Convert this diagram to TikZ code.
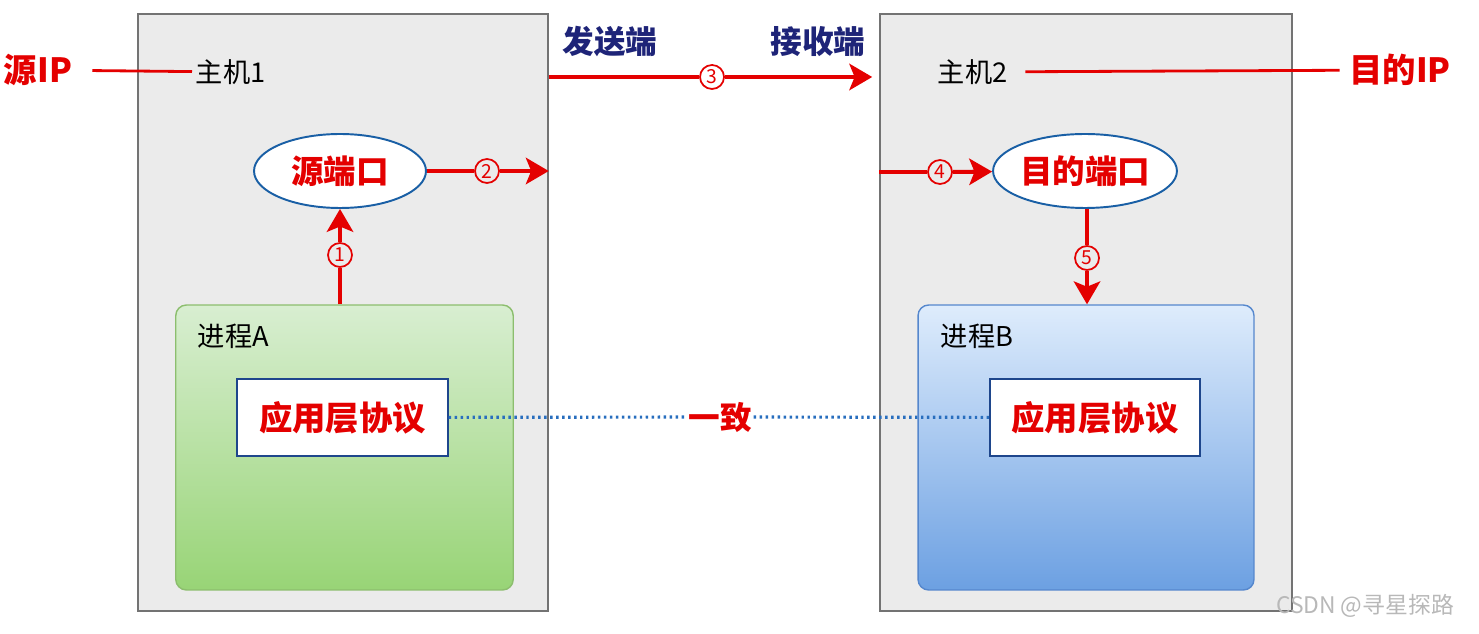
\documentclass[tikz,border=0pt]{standalone}
\usepackage{fontspec}
\setmainfont{Noto Sans CJK SC}
\usetikzlibrary{arrows.meta,shapes.geometric}
\definecolor{hostfill}{RGB}{235,235,235}
\definecolor{hostdraw}{RGB}{115,115,115}
\definecolor{flowred}{RGB}{228,0,0}
\definecolor{sidenavy}{RGB}{30,36,120}
\definecolor{portblue}{RGB}{25,95,165}
\definecolor{protoblue}{RGB}{30,70,140}
\definecolor{greentop}{RGB}{216,238,209}
\definecolor{greenbot}{RGB}{152,212,118}
\definecolor{greendraw}{RGB}{140,190,110}
\definecolor{bluetop}{RGB}{222,236,252}
\definecolor{bluebot}{RGB}{108,160,226}
\definecolor{bluedraw}{RGB}{85,135,205}
\definecolor{dotblue}{RGB}{40,110,190}
\begin{document}
\begin{tikzpicture}[x=0.02cm,y=-0.02cm,
  hostbox/.style={draw=hostdraw,fill=hostfill,line width=0.9pt,minimum width=8.2cm,minimum height=11.94cm,inner sep=0},
  procbox/.style={rounded corners=6pt,line width=0.8pt,minimum width=6.75cm,minimum height=5.7cm,inner sep=0},
  protobox/.style={draw=protoblue,fill=white,line width=1pt,minimum width=4.21cm,minimum height=1.54cm,inner sep=0,
    text=flowred,font=\fontsize{19}{19}\selectfont\bfseries},
  portnode/.style={ellipse,draw=portblue,fill=white,line width=1.1pt,minimum height=1.48cm,inner sep=0,
    text=flowred,font=\fontsize{18.5}{18.5}\selectfont\bfseries},
  stepnum/.style={circle,draw=flowred,line width=1pt,minimum size=0.48cm,inner sep=0,text=flowred,
    font=\fontsize{11}{11}\selectfont},
  flow/.style={flowred,line width=2.3pt},
  flowarrow/.style={flow,-{Stealth[length=13pt,width=15pt,inset=3pt]}},
  iplabel/.style={text=flowred,font=\fontsize{19}{19}\selectfont\bfseries},
  sidelabel/.style={text=sidenavy,font=\fontsize{18}{18}\selectfont\bfseries},
  plainlabel/.style={anchor=west,inner sep=2pt,font=\fontsize{15.5}{15.5}\selectfont}]
  \useasboundingbox (0,0) rectangle (1479,634);
  % hosts
  \node[hostbox] (host1) at (343,312.5) {};
  \node[hostbox,minimum width=8.24cm] (host2) at (1086,312.5) {};
  \node[plainlabel] (h1lbl) at (192,72) {主机1};
  \node[plainlabel] (h2lbl) at (934,72) {主机2};
  \node[iplabel] (srcip) at (38,70) {源IP};
  \node[iplabel] (dstip) at (1400,70) {目的IP};
  \draw[flowred,line width=1.6pt,shorten <=8pt] (srcip) -- (h1lbl);
  \draw[flowred,line width=1.6pt,shorten <=8pt,shorten >=2pt] (h2lbl) -- (dstip);
  \node[sidelabel] (send) at (610,42) {发送端};
  \node[sidelabel] (recv) at (818,42) {接收端};
  % processes
  \node[procbox,draw=greendraw,top color=greentop,bottom color=greenbot] (procA) at (344.5,447.5) {};
  \node[procbox,draw=bluedraw,top color=bluetop,bottom color=bluebot,minimum width=6.72cm] (procB) at (1086,447.5) {};
  \node[plainlabel] (lblA) at (194,336) {进程A};
  \node[plainlabel] (lblB) at (937,336) {进程B};
  \node[protobox] (protoA) at (342.5,417.5) {应用层协议};
  \node[protobox] (protoB) at (1095,417.5) {应用层协议};
  \node[text=flowred,font=\fontsize{18}{18}\selectfont\bfseries,inner sep=1pt] (agree) at (720,417) {一致};
  \draw[dotblue,line width=1.8pt,dash pattern=on 1.4pt off 2pt] (protoA) -- (agree);
  \draw[dotblue,line width=1.8pt,dash pattern=on 1.4pt off 2pt] (agree) -- (protoB);
  % ports
  \node[portnode,minimum width=3.44cm] (srcport) at (340,171) {源端口};
  \node[portnode,minimum width=3.48cm] (dstport) at (1085,171) {目的端口};
  % steps
  \node[stepnum] (c1) at (340,255) {1};
  \node[stepnum] (c2) at (487,171) {2};
  \node[stepnum] (c3) at (712,77) {3};
  \node[stepnum] (c4) at (940,172) {4};
  \node[stepnum] (c5) at (1087,258) {5};
  \draw[flow] (srcport |- procA.north) -- (c1);
  \draw[flowarrow] (c1) -- (srcport);
  \draw[flow] (srcport) -- (c2);
  \draw[flowarrow] (c2) -- (c2 -| host1.east);
  \draw[flow,line width=2.6pt] (c3 -| host1.east) -- (c3);
  \draw[flowarrow,line width=2.6pt,shorten >=4pt] (c3) -- (c3 -| host2.west);
  \draw[flow] (c4 -| host2.west) -- (c4);
  \draw[flowarrow] (c4) -- (dstport);
  \draw[flow] (dstport.south -| c5) -- (c5);
  \draw[flowarrow] (c5) -- (c5 |- procB.north);
  \node[text=black!28,font=\fontsize{13}{13}\selectfont] (mark) at (1365,606) {CSDN @寻星探路};
\end{tikzpicture}
\end{document}
